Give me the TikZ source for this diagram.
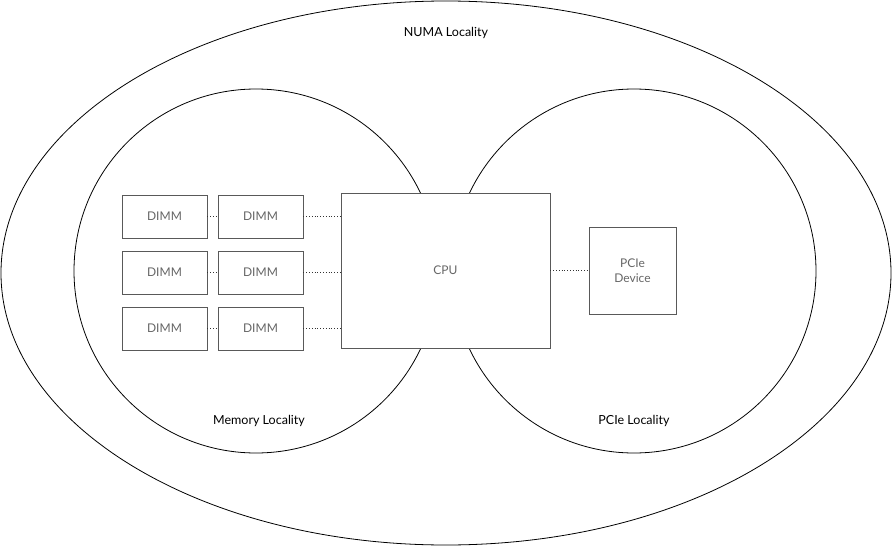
\documentclass[tikz,border=0pt]{standalone}
\usepackage{fontspec}
\setmainfont{Lato}
\begin{document}
\begin{tikzpicture}[x=1pt,y=-1pt,
    caja/.style={draw=black!65,fill=white,line width=0.8pt,inner sep=0pt,
        text=black!60,font=\fontsize{12}{14.5}\selectfont,align=center},
    punteada/.style={draw=black!80,dotted,line width=0.8pt},
    zona/.style={draw=black,line width=0.8pt},
    etiqueta/.style={font=\fontsize{12.5}{15}\selectfont,text=black}]
    \useasboundingbox (0,0) rectangle (892,546);

    % \zonas
    \draw[zona] (446,273) ellipse [x radius=445, y radius=272];
    \draw[zona] (256,271) circle (182);
    \draw[zona] (634,271) circle (182);

    \node[etiqueta] (numa) at (446,33) {NUMA Locality};
    \node[etiqueta] (mem) at (259,421) {Memory Locality};
    \node[etiqueta] (pcie) at (634,421) {PCIe Locality};

    % \cajas
    \node[caja,minimum width=209,minimum height=155] (cpu) at (445.5,270.5) {CPU};
    \node[caja,minimum width=87,minimum height=87] (dev) at (632.5,270.5) {PCIe\\Device};

    \node[caja,minimum width=85,minimum height=43] (d11) at (164.5,216.5) {DIMM};
    \node[caja,minimum width=85,minimum height=43] (d12) at (260.5,216.5) {DIMM};

    \node[caja,minimum width=85,minimum height=43] (d21) at (164.5,272.5) {DIMM};
    \node[caja,minimum width=85,minimum height=43] (d22) at (260.5,272.5) {DIMM};

    \node[caja,minimum width=85,minimum height=43] (d31) at (164.5,328.5) {DIMM};
    \node[caja,minimum width=85,minimum height=43] (d32) at (260.5,328.5) {DIMM};

    % \conexiones
    \draw[punteada] (d11) -- (d12);
    \draw[punteada] (d21) -- (d22);
    \draw[punteada] (d31) -- (d32);

    \draw[punteada] (d12.east) -- (d12.east -| cpu.west);
    \draw[punteada] (d22.east) -- (d22.east -| cpu.west);
    \draw[punteada] (d32.east) -- (d32.east -| cpu.west);

    \draw[punteada] (cpu) -- (dev);

\end{tikzpicture}
\end{document}
